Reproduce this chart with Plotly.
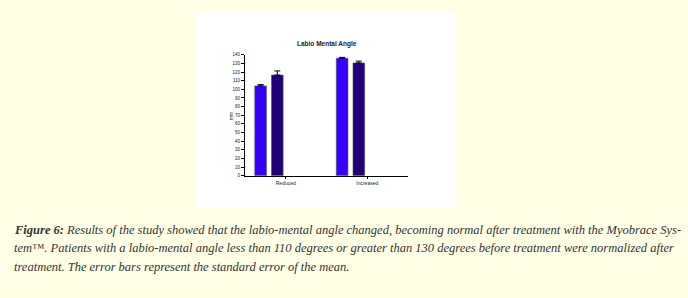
import plotly.graph_objects as go

W, H = 688, 298

categories = ["Reduced", "Increased"]
before_vals = [104, 136]
before_err = [1.5, 1.0]
after_vals = [116.5, 130.5]
after_err = [4.8, 2.2]
y_ticks = list(range(0, 150, 10))
title_text = "Labio Mental Angle"
y_title = "mm"
caption_lines = [
    "<b>Figure 6:</b> Results of the study showed that the labio-mental angle changed, becoming normal after treatment with the Myobrace Sys-",
    "tem™. Patients with a labio-mental angle less than 110 degrees or greater than 130 degrees before treatment were normalized after",
    "treatment. The error bars represent the standard error of the mean.",
]

def px_x(p):
    return p / W

def px_y(p):
    return 1 - p / H

fig = go.Figure()
fig.add_trace(go.Bar(
    x=[0, 1], y=before_vals, width=0.143, offset=-0.38,
    marker=dict(color="#3300FF", line=dict(color="#555555", width=0.6)),
    error_y=dict(type="data", symmetric=False, array=before_err, arrayminus=[0, 0],
                 color="black", thickness=1, width=3),
    showlegend=False,
))
fig.add_trace(go.Bar(
    x=[0, 1], y=after_vals, width=0.143, offset=-0.175,
    marker=dict(color="#1E0078", line=dict(color="#555555", width=0.6)),
    error_y=dict(type="data", symmetric=False, array=after_err, arrayminus=[0, 0],
                 color="black", thickness=1, width=3),
    showlegend=False,
))

fig.update_layout(
    width=W, height=H,
    margin=dict(l=0, r=0, t=0, b=0),
    paper_bgcolor="#FFFFE6",
    plot_bgcolor="white",
    xaxis=dict(
        domain=[px_x(245), px_x(408)], range=[-0.5, 1.5],
        tickmode="array", tickvals=[0, 1], ticktext=categories,
        ticks="outside", ticklen=2, tickwidth=1, tickcolor="black",
        showline=True, linecolor="black", linewidth=1, showgrid=False, zeroline=False,
        tickfont=dict(family="Liberation Sans", size=5, color="#222"),
    ),
    yaxis=dict(
        domain=[px_y(176.7), px_y(53.7)], range=[0, 140],
        tickmode="array", tickvals=y_ticks,
        ticks="outside", ticklen=3, tickwidth=1, tickcolor="black",
        showline=True, linecolor="black", linewidth=1, showgrid=False, zeroline=False,
        tickfont=dict(family="Liberation Sans", size=4.5, color="#222"),
    ),
    shapes=[dict(type="rect", xref="paper", yref="paper",
                 x0=px_x(196), x1=px_x(455), y0=px_y(209), y1=px_y(11),
                 fillcolor="white", line=dict(width=0), layer="below")],
)

fig.add_annotation(x=px_x(326.5), y=px_y(43), xref="paper", yref="paper",
                   text="<b>" + title_text + "</b>", showarrow=False,
                   font=dict(family="Liberation Sans", size=6.5, color="#222"),
                   xanchor="center", yanchor="middle")
fig.add_annotation(x=px_x(231), y=px_y(116), xref="paper", yref="paper",
                   text=y_title, showarrow=False, textangle=-90,
                   font=dict(family="Liberation Sans", size=5, color="#222"),
                   xanchor="center", yanchor="middle")

for i, line in enumerate(caption_lines):
    fig.add_annotation(x=px_x(12), y=px_y(231.5 + 19 * i), xref="paper", yref="paper",
                       text="<i>" + line + "</i>", showarrow=False,
                       font=dict(family="Liberation Serif", size=12.5, color="#333333"),
                       xanchor="left", yanchor="middle", align="left")

fig.write_html("out.html")
